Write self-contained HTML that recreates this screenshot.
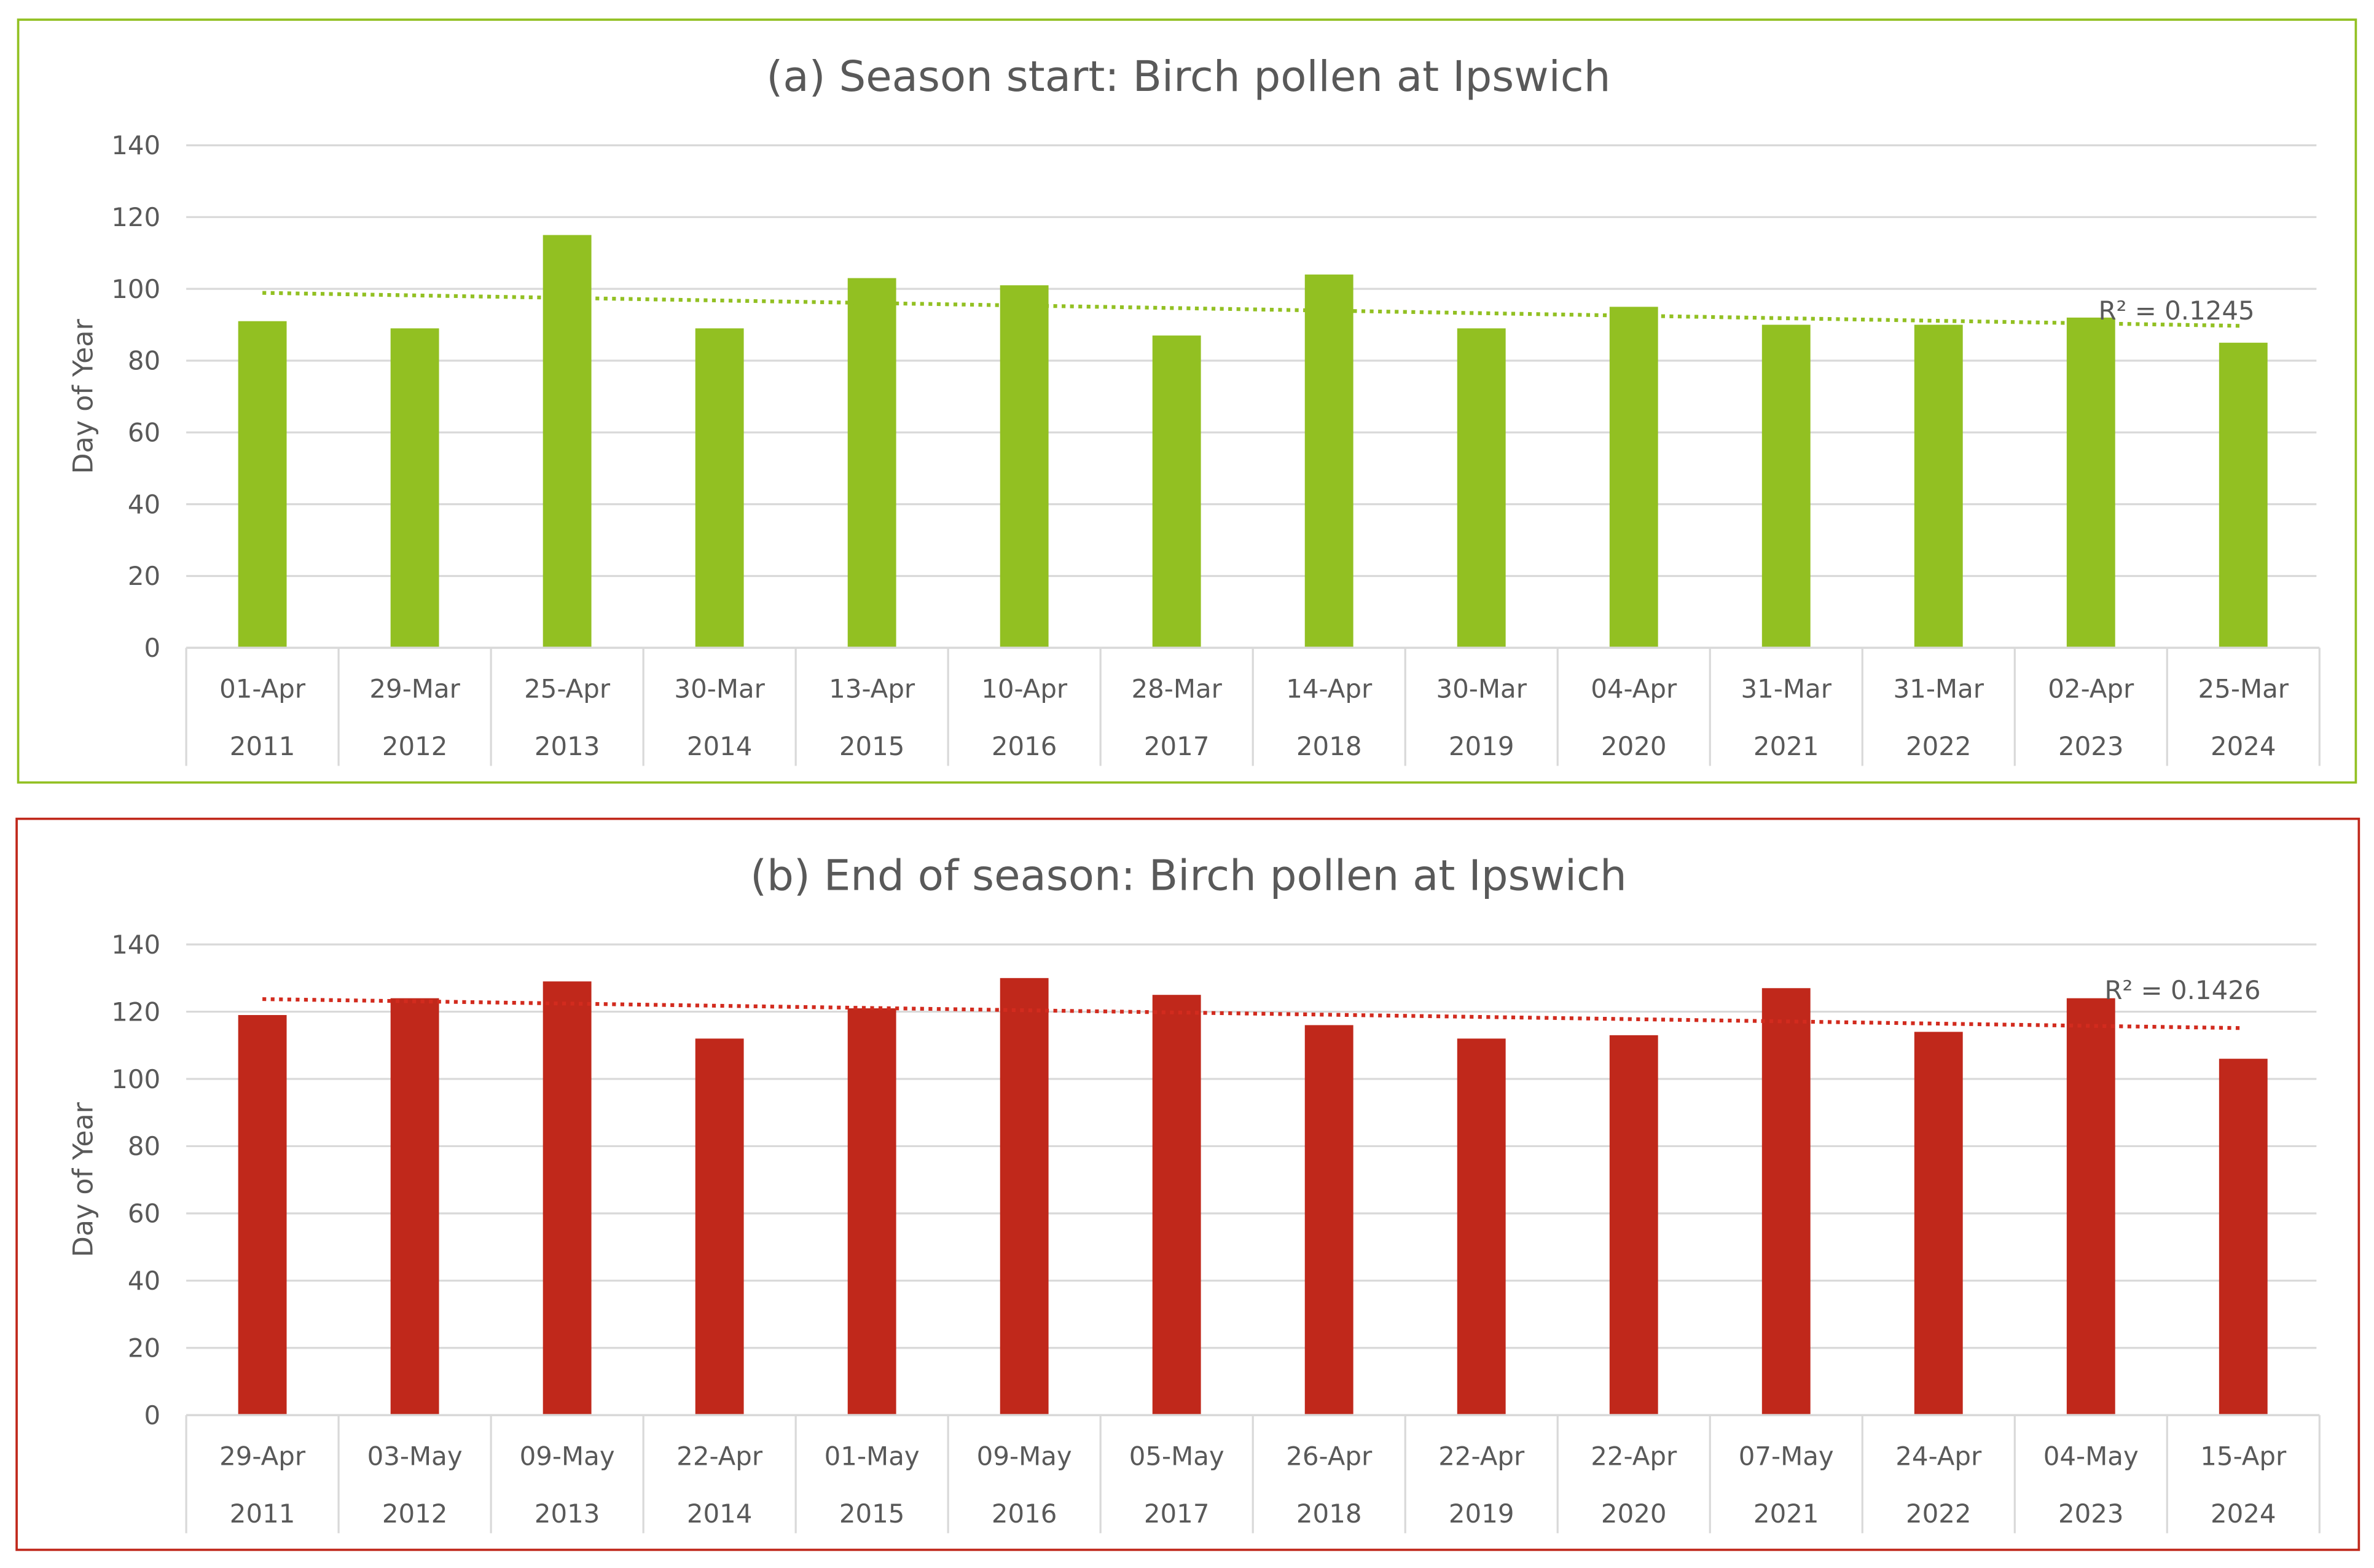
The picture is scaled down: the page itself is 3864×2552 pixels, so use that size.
<!DOCTYPE html>
<html><head><meta charset="utf-8"><style>
html,body{margin:0;padding:0;background:#fff;}
svg{display:block;}
text{font-family:"DejaVu Sans","Liberation Sans",sans-serif;fill:#595959;}
</style></head><body>
<svg id="s" width="3864" height="2552" viewBox="0 0 1568 1036" preserveAspectRatio="none" xmlns="http://www.w3.org/2000/svg">
</svg>
<script>
const categoriesA = ["01-Apr","29-Mar","25-Apr","30-Mar","13-Apr","10-Apr","28-Mar","14-Apr","30-Mar","04-Apr","31-Mar","31-Mar","02-Apr","25-Mar"];
const categoriesB = ["29-Apr","03-May","09-May","22-Apr","01-May","09-May","05-May","26-Apr","22-Apr","22-Apr","07-May","24-Apr","04-May","15-Apr"];
const years = ["2011","2012","2013","2014","2015","2016","2017","2018","2019","2020","2021","2022","2023","2024"];
const valuesA = [91,89,115,89,103,101,87,104,89,95,90,90,92,85];
const valuesB = [119,124,129,112,121,130,125,116,112,113,127,114,124,106];
const yTicks = [0,20,40,60,80,100,120,140];
const r2A = "R² = 0.1245";
const r2B = "R² = 0.1426";

const svg = document.getElementById('s');
const NS = "http://www.w3.org/2000/svg";
function el(tag, attrs, parent){const e=document.createElementNS(NS,tag);for(const k in attrs)e.setAttribute(k,attrs[k]);(parent||svg).appendChild(e);return e;}

function chart(cfg){
  const g = el('g',{});
  
  
  const fr = el('rect',{x:cfg.bx,y:cfg.by,width:cfg.bw,height:cfg.bh,fill:'#fff',stroke:cfg.color,'stroke-width':1.5},g);
  
  
  const t = el('text',{x:785,y:cfg.titleY,'text-anchor':'middle','font-size':28},g);
  t.textContent = cfg.title;
  
  
  const x0=123, x1=1532, n=cfg.values.length, step=(x1-x0)/n;
  const yScale = v => cfg.y0 - (v/140)*(cfg.y0-cfg.y140);
  const xCenter = i => x0 + step*(i+0.5);
  yTicks.forEach(v=>{
    const y=yScale(v);
    if(v>0){const l=el('line',{x1:x0,x2:1530,y1:y,y2:y,stroke:'#d9d9d9','stroke-width':1.3},g);
      
      }
    const tt=el('text',{x:106,y:y+6,'text-anchor':'end','font-size':17},g);
    tt.textContent=v;
    
    
  });
  const yt=el('text',{x:0,y:0,'text-anchor':'middle','font-size':18,transform:`translate(61,${(cfg.y0+cfg.y140)/2}) rotate(-90)`},g);
  yt.textContent='Day of Year';
  
  
  cfg.values.forEach((v,i)=>{
    const b=el('rect',{x:xCenter(i)-16,y:yScale(v),width:32,height:cfg.y0-yScale(v),fill:cfg.color},g);
    
    
    const d=el('text',{x:xCenter(i),y:cfg.y0+33,'text-anchor':'middle','font-size':17},g);
    d.textContent=cfg.cats[i];
    
    
    const yr=el('text',{x:xCenter(i),y:cfg.y0+71,'text-anchor':'middle','font-size':17},g);
    yr.textContent=years[i];
    
    
  });
  for(let i=0;i<=n;i++){
    const l=el('line',{x1:x0+step*i,x2:x0+step*i,y1:cfg.y0,y2:cfg.y0+78,stroke:'#d9d9d9','stroke-width':1.3},g);
    
    
  }
  const ax=el('line',{x1:x0,x2:x1,y1:cfg.y0,y2:cfg.y0,stroke:'#d9d9d9','stroke-width':1.5},g);
  
  
  let sx=0,sy=0,sxx=0,sxy=0;
  cfg.values.forEach((v,i)=>{sx+=i;sy+=v;sxx+=i*i;sxy+=i*v;});
  const m=(n*sxy-sx*sy)/(n*sxx-sx*sx), c=(sy-m*sx)/n;
  const tl=el('line',{x1:xCenter(0),y1:yScale(c),x2:xCenter(n-1),y2:yScale(c+m*(n-1)),stroke:cfg.trend,'stroke-width':2.5,'stroke-dasharray':'2.5 3'},g);
  
  
  const r=el('text',{x:cfg.r2x,y:cfg.r2y,'font-size':17},g);
  r.textContent=cfg.r2;
  
  
}
chart({name:'season-start-chart',bx:12,by:13,bw:1544,bh:504,color:'#92c022',trend:'#92c022',title:'(a) Season start: Birch pollen at Ipswich',titleY:60,y0:428,y140:96,values:valuesA,cats:categoriesA,r2:r2A,r2x:1386,r2y:211});
chart({name:'season-end-chart',bx:11,by:541,bw:1547,bh:483,color:'#c0281b',trend:'#d22b1e',title:'(b) End of season: Birch pollen at Ipswich',titleY:588,y0:935,y140:624,values:valuesB,cats:categoriesB,r2:r2B,r2x:1390,r2y:660});
</script>
</body></html>
